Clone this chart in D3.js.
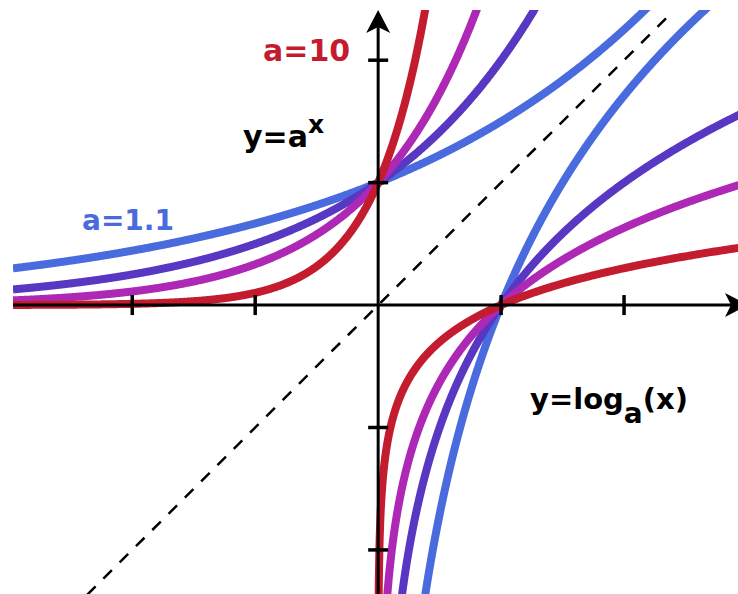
<!DOCTYPE html>
<html>
<head>
<meta charset="utf-8">
<script src="https://cdn.jsdelivr.net/npm/d3@7"></script>
<style>
    body { margin: 0; background: #fff; }
    text { font-family: "DejaVu Sans", sans-serif; font-weight: bold; }
</style>
</head>
<body>
<div id="chart"></div>
<script>
// bases of the plotted curves, and their colours
let bases = [1.5, 2, 3, 10];
let baseColors = ["#4a6bdd", "#5838c2", "#ae28b6", "#c41c2f"];
let tickValues = [-2, -1, 1, 2];

let width = 738, height = 594;

let svg = d3.select("#chart").append("svg")
    .attr("width", width)
    .attr("height", height);

// scales: origin at (378, 305), ~123px per unit
let x = d3.scaleLinear().domain([-2.97, 3.0]).range([13, 747]);
let y = d3.scaleLinear().domain([-2.36, 2.41]).range([594, 10]);

svg.append("clipPath").attr("id", "plotClip")
    .append("rect")
    .attr("x", 13).attr("y", 10)
    .attr("width", width - 13).attr("height", height - 10);

let plot = svg.append("g").attr("clip-path", "url(#plotClip)");

// dashed y = x
plot.append("line")
    .attr("x1", x(-2.5)).attr("y1", y(-2.5))
    .attr("x2", x(2.38)).attr("y2", y(2.38))
    .attr("stroke", "#000")
    .attr("stroke-width", 2.5)
    .attr("stroke-dasharray", "12,11");

let line = d3.line()
    .x(d => x(d[0]))
    .y(d => y(d[1]));

let xs = d3.range(-2.97, 3.0001, 0.005);

// exponentials then logarithms, blue drawn first so red sits on top
bases.forEach(function(a, i) {
    let expPts = xs.map(t => [t, Math.pow(a, t)]).filter(p => p[1] < 3);
    plot.append("path")
        .attr("d", line(expPts))
        .attr("fill", "none")
        .attr("stroke", baseColors[i])
        .attr("stroke-width", 8);
});

bases.forEach(function(a, i) {
    // sample by y so the steep part near x=0 stays smooth
    let ys = d3.range(-2.6, 3.0, 0.005);
    let logPts = ys.map(v => [Math.pow(a, v), v]).filter(p => p[0] < 3.2);
    plot.append("path")
        .attr("d", line(logPts))
        .attr("fill", "none")
        .attr("stroke", baseColors[i])
        .attr("stroke-width", 8);
});

// axes
let axes = svg.append("g");

axes.append("line")
    .attr("x1", 13).attr("y1", y(0))
    .attr("x2", 740).attr("y2", y(0))
    .attr("stroke", "#000").attr("stroke-width", 3);

axes.append("line")
    .attr("x1", x(0)).attr("y1", height)
    .attr("x2", x(0)).attr("y2", 24)
    .attr("stroke", "#000").attr("stroke-width", 3);

// arrow heads
let ax = x(0), ay = y(0);
axes.append("path")
    .attr("d", `M${ax},10 L${ax - 12},33 L${ax},27 L${ax + 12},33 Z`)
    .attr("fill", "#000");
axes.append("path")
    .attr("d", `M${748},${ay} L${725},${ay - 12} L${731},${ay} L${725},${ay + 12} Z`)
    .attr("fill", "#000");

axes.selectAll(".xtick")
    .data(tickValues)
    .enter().append("line")
    .attr("class", "xtick")
    .attr("x1", d => x(d)).attr("x2", d => x(d))
    .attr("y1", ay - 10).attr("y2", ay + 10)
    .attr("stroke", "#000").attr("stroke-width", 3.5);

axes.selectAll(".ytick")
    .data(tickValues)
    .enter().append("line")
    .attr("class", "ytick")
    .attr("y1", d => y(d)).attr("y2", d => y(d))
    .attr("x1", ax - 10).attr("x2", ax + 10)
    .attr("stroke", "#000").attr("stroke-width", 3.5);

// labels
svg.append("text")
    .attr("x", 263).attr("y", 61)
    .attr("font-size", 30)
    .attr("fill", baseColors[3])
    .text("a=10");

svg.append("text")
    .attr("x", 82).attr("y", 230)
    .attr("font-size", 28)
    .attr("fill", baseColors[0])
    .text("a=1.1");

let expLabel = svg.append("text")
    .attr("x", 243).attr("y", 147)
    .attr("font-size", 30)
    .attr("fill", "#000");
expLabel.append("tspan").text("y=a");
expLabel.append("tspan").attr("font-size", 25).attr("dy", -14).text("x");

let logLabel = svg.append("text")
    .attr("x", 530).attr("y", 409)
    .attr("font-size", 29)
    .attr("fill", "#000");
logLabel.append("tspan").text("y=log");
logLabel.append("tspan").attr("font-size", 28).attr("dy", 14).text("a");
logLabel.append("tspan").attr("dy", -14).text("(x)");
</script>
</body>
</html>
